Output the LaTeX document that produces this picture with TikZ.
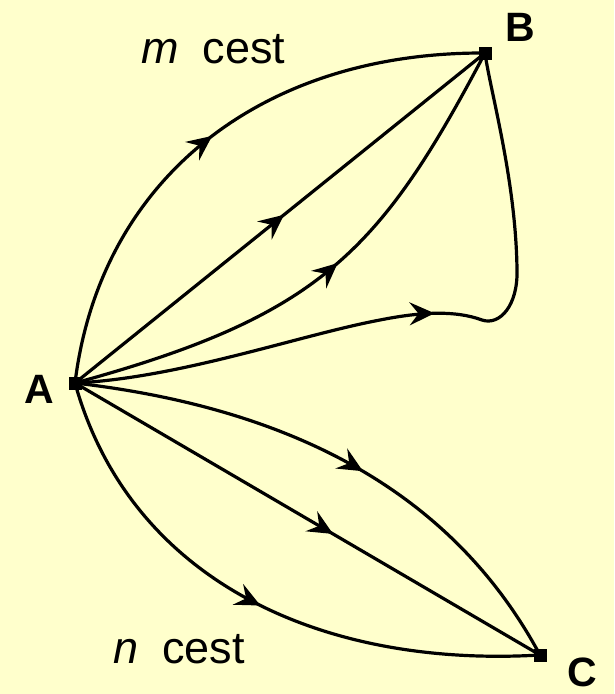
\documentclass[tikz,border=0pt]{standalone}
\usepackage{fontspec}
\setmainfont{Liberation Sans}
\usetikzlibrary{arrows.meta,decorations.markings}
\definecolor{bgcol}{RGB}{255,255,204}
\tikzset{
  vert/.style={fill=black, inner sep=0pt, minimum size=13pt, rectangle},
  conn/.style={line width=3.2pt},
  midarrow/.style={decoration={markings, mark=at position #1 with {\arrow{Stealth[length=25pt,width=23pt,inset=9pt]}}}, postaction={decorate}},
  vlabel/.style={font=\fontsize{41}{48}\selectfont\bfseries, anchor=base, inner sep=0pt},
  clabel/.style={font=\fontsize{45}{52}\selectfont, anchor=base west, inner sep=0pt}
}
\begin{document}
\begin{tikzpicture}[x=1pt,y=-1pt]
\fill[bgcol] (0,0) rectangle (614,694);
\useasboundingbox (0,0) rectangle (614,694);
\node[vert] (A) at (75,383) {};
\node[vert] (B) at (485,53) {};
\node[vert] (C) at (540,655) {};
\node[vlabel] (lA) at (39,403) {A};
\node[vlabel] (lB) at (520,41) {B};
\node[vlabel] (lC) at (582,686) {C};
\node[clabel] (lm) at (141,63) {\textit{m}\hspace{24pt}cest};
\node[clabel] (ln) at (113,663) {\textit{n}\hspace{24pt}cest};

\draw[conn, midarrow=0.5] (A.center) .. controls (100,180) and (260,52) .. (B.center);
\draw[conn, midarrow=0.51] (A.center) -- (B.center);
\draw[conn, midarrow=0.53] (A.center) .. controls (320,316) and (380,252) .. (B.center);
\draw[conn, midarrow=0.52] (A.center) .. controls (180,378) and (300,335) .. (380,320)
   .. controls (420,312) and (455,310) .. (482,320)
   .. controls (500,326) and (518,305) .. (517,270)
   .. controls (516,180) and (490,90) .. (B.center);
\draw[conn, midarrow=0.54] (A.center) .. controls (300,409) and (455,497) .. (C.center);
\draw[conn, midarrow=0.555] (A.center) -- (C.center);
\draw[conn, midarrow=0.51] (A.center) .. controls (130,580) and (320,668) .. (C.center);
\end{tikzpicture}
\end{document}
